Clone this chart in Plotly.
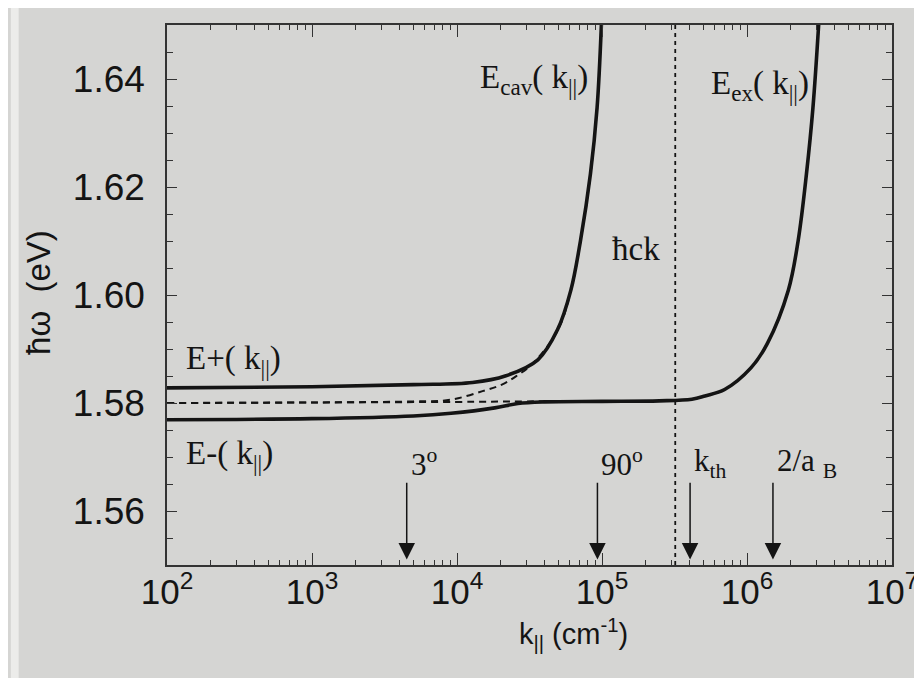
import numpy as np
import plotly.graph_objects as go

# ---- data ----
# upper polariton E+(k||)
k_plus = [1e2, 1e3, 5e3, 1.28e4, 2.15e4, 3.61e4, 4.94e4, 6.1e4, 7.11e4, 8.32e4, 9.25e4, 9.9e4]
E_plus = [1.5828, 1.5830, 1.5834, 1.5838, 1.5850, 1.5880, 1.5936, 1.6009, 1.6101, 1.6224, 1.6347, 1.6500]

# lower polariton E-(k||)
k_minus = [1e2, 1e3, 5e3, 9.1e3, 1.82e4, 2.63e4, 4.0e4, 1e5, 2.48e5, 4.17e5, 5.13e5,
           7.01e5, 1.064e6, 1.38e6, 1.928e6, 2.254e6, 2.57e6, 2.85e6, 3.12e6]
E_minus = [1.5769, 1.5771, 1.5776, 1.5781, 1.5791, 1.5799, 1.5802, 1.5803, 1.5804, 1.5807, 1.5813,
           1.5825, 1.5865, 1.5910, 1.6009, 1.6101, 1.6224, 1.6347, 1.6500]

# bare cavity mode E_cav(k||) (dashed)
k_cav = [1e2, 1e3, 5e3, 9e3, 1.5e4, 2.04e4, 2.57e4, 3.3e4, 4.94e4, 6.1e4, 7.11e4, 8.32e4, 9.25e4, 9.9e4]
E_cav = [1.5800, 1.5801, 1.5803, 1.5806, 1.5822, 1.5834, 1.5850, 1.5872, 1.5934, 1.6008, 1.6100, 1.6223, 1.6346, 1.6500]

# bare exciton E_ex(k||) (dashed)
k_ex = [1e2, 1e3, 1e4, 3e4, 1e5, 2.48e5, 4.17e5, 5.13e5, 7.01e5, 1.064e6,
        1.38e6, 1.928e6, 2.254e6, 2.57e6, 2.85e6, 3.12e6]
E_ex = [1.5800, 1.5801, 1.5802, 1.5803, 1.5803, 1.5804, 1.5807, 1.5813, 1.5825, 1.5865,
        1.5910, 1.6009, 1.6101, 1.6224, 1.6347, 1.6500]

# light line hck
k_light = 3.2e5

# arrow markers
arrow_k = [4.5e3, 9.3e4, 4.05e5, 1.51e6]
arrow_labels = ["3<sup>o</sup>", "90<sup>o</sup>", "k<sub>th</sub>", "2/a <sub>B</sub>"]

# tick labels
x_tickvals = [1e2, 1e3, 1e4, 1e5, 1e6, 1e7]
x_ticktext = ["10<sup>2</sup>", "10<sup>3</sup>", "10<sup>4</sup>", "10<sup>5</sup>", "10<sup>6</sup>", "10<sup>7</sup>"]
y_tickvals = [1.56, 1.58, 1.60, 1.62, 1.64]
y_ticktext = ["1.56", "1.58", "1.60", "1.62", "1.64"]

BG = "#d5d5d3"
INK = "#141414"
SERIF = "Liberation Serif, Times New Roman, serif"
SANS = "Liberation Sans, Arial, sans-serif"

fig = go.Figure()
dash = "7px,5px"
fig.add_trace(go.Scatter(x=k_cav, y=E_cav, mode="lines",
                         line=dict(color=INK, width=2, dash=dash, shape="spline", smoothing=1.0)))
fig.add_trace(go.Scatter(x=k_ex, y=E_ex, mode="lines",
                         line=dict(color=INK, width=2, dash=dash, shape="spline", smoothing=1.0)))
fig.add_trace(go.Scatter(x=[k_light, k_light], y=[1.55, 1.65], mode="lines",
                         line=dict(color=INK, width=1.8, dash="4px,4px")))
fig.add_trace(go.Scatter(x=k_plus, y=E_plus, mode="lines",
                         line=dict(color=INK, width=3.6, shape="spline", smoothing=1.0)))
fig.add_trace(go.Scatter(x=k_minus, y=E_minus, mode="lines",
                         line=dict(color=INK, width=3.6, shape="spline", smoothing=1.0)))

annotations = []
for k, lab in zip(arrow_k, arrow_labels):
    lx = float(np.log10(k))
    annotations.append(dict(x=lx, y=1.5510, ax=lx, ay=1.5655, xref="x", yref="y",
                            axref="x", ayref="y", showarrow=True, arrowhead=2,
                            arrowsize=2.2, arrowwidth=1.5, arrowcolor=INK, text="", standoff=0))
    annotations.append(dict(x=lx, y=1.5689, xref="x", yref="y", text=lab, showarrow=False,
                            xanchor="left", yanchor="middle", xshift=2,
                            font=dict(family=SERIF, size=31, color=INK)))

text_labels = [
    (np.log10(1.30e2), 1.5878, "E+( k<sub>||</sub>)", "left"),
    (np.log10(1.30e2), 1.5703, "E-( k<sub>||</sub>)", "left"),
    (np.log10(8.3e4), 1.6400, "E<sub>cav</sub>( k<sub>||</sub>)", "right"),
    (np.log10(5.5e5), 1.6388, "E<sub>ex</sub>( k<sub>||</sub>)", "left"),
    (np.log10(2.6e5), 1.6086, "ħck", "right"),
]
for lx, ly, t, anc in text_labels:
    annotations.append(dict(x=float(lx), y=ly, xref="x", yref="y", text=t, showarrow=False,
                            xanchor=anc, yanchor="middle",
                            font=dict(family=SERIF, size=33, color=INK)))

# axis titles
annotations.append(dict(x=0.561, y=-0.128, xref="paper", yref="paper",
                        text="k<sub>||</sub> (cm<sup>-1</sup>)", showarrow=False,
                        xanchor="center", yanchor="middle",
                        font=dict(family=SANS, size=29, color=INK)))
annotations.append(dict(x=-0.177, y=0.505, xref="paper", yref="paper",
                        text="ħω  (eV)", showarrow=False, textangle=-90,
                        xanchor="center", yanchor="middle",
                        font=dict(family=SANS, size=33, color=INK)))

shapes = [dict(type="rect", xref="paper", yref="paper",
               x0=-159 / 738, x1=-151 / 738, y0=-0.3, y1=1.1,
               fillcolor="#ececea", line=dict(width=0), layer="below")]

fig.update_layout(
    width=922, height=678,
    margin=dict(l=159, r=25, t=17, b=121),
    paper_bgcolor=BG, plot_bgcolor=BG,
    showlegend=False,
    annotations=annotations,
    shapes=shapes,
)
fig.update_xaxes(
    type="log", range=[2, 7],
    tickvals=x_tickvals, ticktext=x_ticktext,
    ticks="inside", ticklen=12, tickwidth=1.2, tickcolor="#333",
    minor=dict(ticks="inside", ticklen=5, tickwidth=1, tickcolor="#333", dtick="D1"),
    showline=True, linecolor="#333", linewidth=1.5, mirror="allticks",
    showgrid=False, zeroline=False,
    tickfont=dict(family=SANS, size=35, color=INK),
    ticklabelstandoff=-5, ticklabeloverflow="allow",
)
fig.update_yaxes(
    range=[1.55, 1.65],
    tickvals=y_tickvals, ticktext=y_ticktext,
    ticks="inside", ticklen=10, tickwidth=1.2, tickcolor="#333",
    minor=dict(ticks="inside", ticklen=6, tickwidth=1, tickcolor="#333", dtick=0.005),
    showline=True, linecolor="#333", linewidth=1.5, mirror="allticks",
    showgrid=False, zeroline=False,
    tickfont=dict(family=SANS, size=37, color=INK),
    ticklabelstandoff=13, ticklabeloverflow="allow",
)

fig.write_html("out.html")
